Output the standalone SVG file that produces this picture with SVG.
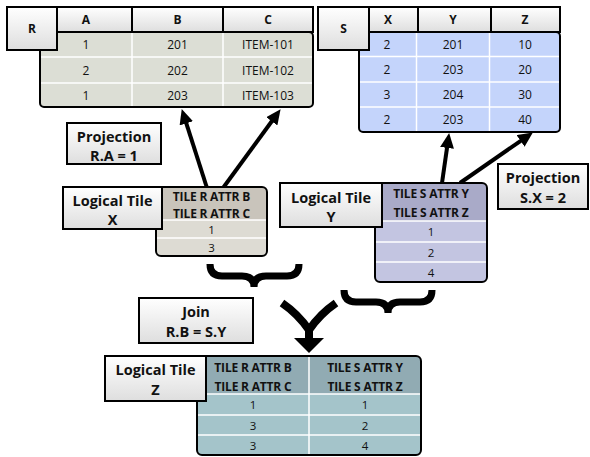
<svg xmlns="http://www.w3.org/2000/svg" width="590" height="457" viewBox="0 0 590 457">
<defs>
<linearGradient id="g" x1="0" y1="0" x2="0" y2="1"><stop offset="0" stop-color="#ffffff"/><stop offset="1" stop-color="#dedede"/></linearGradient>
<marker id="ah" markerUnits="userSpaceOnUse" markerWidth="16" markerHeight="14" refX="2" refY="7" orient="auto"><path d="M0,0 L15,7 L0,14 z" fill="#000"/></marker>
</defs>
<style>
text{font-family:"Open Sans","Noto Sans","DejaVu Sans",sans-serif;fill:#111;text-anchor:middle}
.lb{font-weight:bold;font-size:14.5px}
.hd{font-weight:bold;font-size:12px}
.th{font-weight:bold;font-size:12px;letter-spacing:-0.2px}
.v{font-size:12px}
.tv{font-size:11.5px}
.box{fill:url(#g);stroke:#000;stroke-width:2}
.out{fill:none;stroke:#000;stroke-width:2}
.sep{stroke:#fff;stroke-width:1.5}
.arr{stroke:#000;stroke-width:4;fill:none}
.brace{stroke:#000;stroke-width:7;fill:none}
</style>

<g id="table-R">
<rect x="40" y="32" width="273" height="75" rx="4" fill="#dcded5" stroke="#000" stroke-width="2"/>
<line class="sep" x1="41" y1="57" x2="312" y2="57"/>
<line class="sep" x1="41" y1="83" x2="312" y2="83"/>
<line class="sep" x1="132" y1="33" x2="132" y2="106"/>
<line class="sep" x1="223" y1="33" x2="223" y2="106"/>
<rect class="box" x="57" y="7" width="75" height="25"/>
<rect class="box" x="132" y="7" width="91" height="25"/>
<rect class="box" x="223" y="7" width="90" height="25"/>
<rect class="box" x="7" y="7" width="50" height="43"/>
<text class="hd" x="32" y="33">R</text>
<text class="hd" x="86" y="24">A</text>
<text class="hd" x="177.5" y="24">B</text>
<text class="hd" x="268" y="24">C</text>
<text class="v" x="86" y="49">1</text><text class="v" x="177.5" y="49">201</text><text class="v" x="268" y="49">ITEM-101</text>
<text class="v" x="86" y="74.5">2</text><text class="v" x="177.5" y="74.5">202</text><text class="v" x="268" y="74.5">ITEM-102</text>
<text class="v" x="86" y="99.5">1</text><text class="v" x="177.5" y="99.5">203</text><text class="v" x="268" y="99.5">ITEM-103</text>
</g>

<g id="table-S">
<rect x="359" y="32" width="201" height="100" rx="4" fill="#c4d4fb" stroke="#000" stroke-width="2"/>
<line class="sep" x1="360" y1="56.5" x2="559" y2="56.5"/>
<line class="sep" x1="360" y1="82" x2="559" y2="82"/>
<line class="sep" x1="360" y1="107" x2="559" y2="107"/>
<line class="sep" x1="416.5" y1="33" x2="416.5" y2="131"/>
<line class="sep" x1="489.5" y1="33" x2="489.5" y2="131"/>
<rect class="box" x="368" y="7" width="50" height="25"/>
<rect class="box" x="418" y="7" width="73" height="25"/>
<rect class="box" x="491" y="7" width="69" height="25"/>
<rect class="box" x="318" y="7" width="51" height="43"/>
<text class="hd" x="343.5" y="33">S</text>
<text class="hd" x="388" y="24">X</text>
<text class="hd" x="453" y="24">Y</text>
<text class="hd" x="525" y="24">Z</text>
<text class="v" x="387" y="49">2</text><text class="v" x="453" y="49">201</text><text class="v" x="525" y="49">10</text>
<text class="v" x="387" y="74">2</text><text class="v" x="453" y="74">203</text><text class="v" x="525" y="74">20</text>
<text class="v" x="387" y="99">3</text><text class="v" x="453" y="99">204</text><text class="v" x="525" y="99">30</text>
<text class="v" x="387" y="124">2</text><text class="v" x="453" y="124">203</text><text class="v" x="525" y="124">40</text>
</g>

<g id="connectors">
<line class="arr" x1="207" y1="188" x2="185.7" y2="121.4" marker-end="url(#ah)"/>
<line class="arr" x1="223" y1="188" x2="272.9" y2="119.7" marker-end="url(#ah)"/>
<line class="arr" x1="442" y1="183" x2="447.3" y2="145.9" marker-end="url(#ah)"/>
<line class="arr" x1="460" y1="183" x2="522.2" y2="139.8" marker-end="url(#ah)"/>
<path class="brace" d="M210,264 Q210,276 222,276 H242 Q254,276 254,287 Q254,276 266,276 H287 Q299,276 299,264"/>
<path class="brace" d="M344,290 Q344,302 356,302 H376 Q388,302 388,313 Q388,302 400,302 H420 Q432,302 432,290"/>
<path d="M282,303 Q298,314 309,330 M336,303 Q320,314 309,330 M309,324 V340" stroke="#000" stroke-width="8" fill="none"/>
<polygon points="294,338 324,338 309,353" fill="#000"/>
</g>

<g id="tile-X">
<rect x="156" y="187" width="111" height="69" rx="5" fill="#dddbd3"/>
<path d="M161,187 H262 Q267,187 267,192 V220 H156 V192 Q156,187 161,187 z" fill="#c9c4bb"/>
<line class="sep" x1="157" y1="220" x2="266" y2="220"/>
<line class="sep" x1="157" y1="238" x2="266" y2="238"/>
<rect class="out" x="156" y="187" width="111" height="69" rx="5"/>
<text class="th" x="211.5" y="201">TILE R ATTR B</text>
<text class="th" x="211.5" y="218">TILE R ATTR C</text>
<text class="tv" x="211.5" y="233.5">1</text>
<text class="tv" x="211.5" y="251.5">3</text>
</g>

<g id="tile-Y">
<rect x="375" y="183" width="112" height="99" rx="5" fill="#c3c5e1"/>
<path d="M380,183 H482 Q487,183 487,188 V221 H375 V188 Q375,183 380,183 z" fill="#a9aac8"/>
<line class="sep" x1="376" y1="221" x2="486" y2="221"/>
<line class="sep" x1="376" y1="242" x2="486" y2="242"/>
<line class="sep" x1="376" y1="262" x2="486" y2="262"/>
<rect class="out" x="375" y="183" width="112" height="99" rx="5"/>
<text class="th" x="431" y="198">TILE S ATTR Y</text>
<text class="th" x="431" y="217">TILE S ATTR Z</text>
<text class="tv" x="431" y="236">1</text>
<text class="tv" x="431" y="256.5">2</text>
<text class="tv" x="431" y="276.5">4</text>
</g>

<g id="tile-Z">
<rect x="197" y="356" width="224" height="99" rx="5" fill="#a4c4ca"/>
<path d="M202,356 H416 Q421,356 421,361 V394 H197 V361 Q197,356 202,356 z" fill="#91abb3"/>
<line class="sep" x1="198" y1="394" x2="420" y2="394"/>
<line class="sep" x1="198" y1="415" x2="420" y2="415"/>
<line class="sep" x1="198" y1="435" x2="420" y2="435"/>
<line class="sep" x1="309" y1="357" x2="309" y2="454"/>
<rect class="out" x="197" y="356" width="224" height="99" rx="5"/>
<text class="th" x="253" y="372">TILE R ATTR B</text>
<text class="th" x="253" y="391">TILE R ATTR C</text>
<text class="th" x="365" y="372">TILE S ATTR Y</text>
<text class="th" x="365" y="391">TILE S ATTR Z</text>
<text class="tv" x="253" y="409">1</text><text class="tv" x="365" y="409">1</text>
<text class="tv" x="253" y="429.5">3</text><text class="tv" x="365" y="429.5">2</text>
<text class="tv" x="253" y="449.5">3</text><text class="tv" x="365" y="449.5">4</text>
</g>

<g id="label-proj-R">
<rect class="box" x="67" y="123" width="94" height="41"/>
<text class="lb" x="114" y="142">Projection</text>
<text class="lb" x="114" y="161">R.A = 1</text>
</g>
<g id="label-proj-S">
<rect class="box" x="498" y="164" width="90" height="45"/>
<text class="lb" x="543" y="183">Projection</text>
<text class="lb" x="543" y="203">S.X = 2</text>
</g>
<g id="label-tile-X">
<rect class="box" x="63" y="187" width="99" height="42"/>
<text class="lb" x="112.5" y="206">Logical Tile</text>
<text class="lb" x="112.5" y="225">X</text>
</g>
<g id="label-tile-Y">
<rect class="box" x="280" y="183" width="102" height="44"/>
<text class="lb" x="331" y="203">Logical Tile</text>
<text class="lb" x="331" y="222">Y</text>
</g>
<g id="label-join">
<rect class="box" x="139" y="298" width="114" height="45"/>
<text class="lb" x="196" y="317">Join</text>
<text class="lb" x="196" y="337">R.B = S.Y</text>
</g>
<g id="label-tile-Z">
<rect class="box" x="105" y="356" width="101" height="45"/>
<text class="lb" x="155.5" y="375">Logical Tile</text>
<text class="lb" x="155.5" y="395">Z</text>
</g>
</svg>
